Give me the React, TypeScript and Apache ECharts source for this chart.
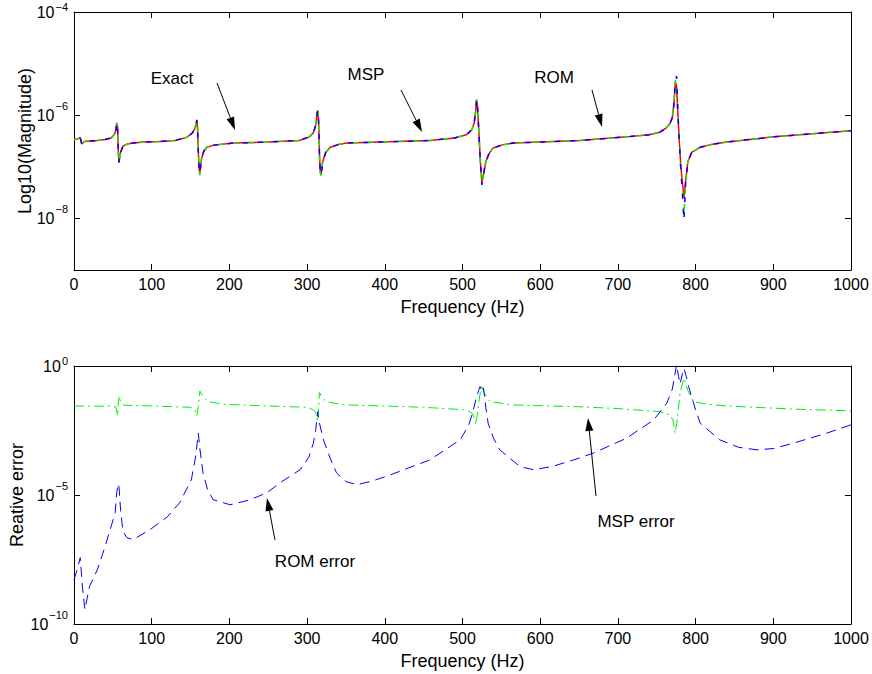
import React, { useEffect, useRef } from 'react';
import * as echarts from 'echarts';

// ---------- Top panel: transfer function magnitude ----------
const topFreq = [0, 5, 8, 10, 13, 20, 30, 40, 48, 52, 54, 55, 56, 57, 58, 60, 63, 68, 76, 90, 110, 130, 145, 152, 155, 157, 158, 159, 160, 161, 162, 164, 167, 171, 180, 205, 250, 290, 303, 308, 311, 313, 314, 315, 316, 317, 318, 320, 324, 330, 340, 351, 394, 458, 490, 505, 512, 515, 517, 518, 519, 521, 523, 525, 527, 530, 534, 539, 550, 565, 651, 711, 740, 754, 762, 767, 770, 772, 774, 775.5, 777, 779, 781, 783, 785, 787, 790, 795, 806, 820, 840, 900, 1000];

// log10 of magnitude
const exactLog10 = [-6.47, -6.46, -6.43, -6.56, -6.51, -6.50, -6.49, -6.47, -6.44, -6.37, -6.28, -6.15, -6.20, -6.70, -6.90, -6.72, -6.60, -6.56, -6.54, -6.52, -6.51, -6.49, -6.43, -6.35, -6.28, -6.18, -6.10, -6.25, -6.70, -7.05, -7.12, -6.85, -6.70, -6.62, -6.58, -6.54, -6.52, -6.49, -6.42, -6.34, -6.20, -5.95, -5.91, -6.20, -6.80, -7.10, -7.15, -6.90, -6.72, -6.62, -6.57, -6.54, -6.52, -6.49, -6.44, -6.38, -6.28, -6.15, -5.92, -5.70, -5.75, -6.30, -6.90, -7.30, -7.15, -6.90, -6.75, -6.64, -6.58, -6.54, -6.49, -6.42, -6.38, -6.33, -6.25, -6.16, -6.05, -5.80, -5.35, -5.45, -5.90, -6.50, -7.00, -7.30, -7.60, -7.30, -6.90, -6.72, -6.62, -6.57, -6.52, -6.42, -6.30];
const mspLog10 = [-6.47, -6.46, -6.43, -6.56, -6.51, -6.50, -6.49, -6.47, -6.44, -6.37, -6.28, -6.15, -6.20, -6.72, -6.92, -6.72, -6.60, -6.56, -6.54, -6.52, -6.51, -6.49, -6.43, -6.35, -6.28, -6.18, -6.10, -6.25, -6.72, -7.08, -7.16, -6.86, -6.70, -6.62, -6.58, -6.54, -6.52, -6.49, -6.42, -6.34, -6.20, -5.95, -5.91, -6.20, -6.82, -7.12, -7.18, -6.90, -6.72, -6.62, -6.57, -6.54, -6.52, -6.49, -6.44, -6.38, -6.28, -6.15, -5.92, -5.70, -5.75, -6.30, -6.92, -7.33, -7.16, -6.90, -6.75, -6.64, -6.58, -6.54, -6.49, -6.42, -6.38, -6.33, -6.25, -6.16, -6.05, -5.80, -5.32, -5.30, -5.90, -6.50, -7.05, -7.45, -7.95, -7.35, -6.90, -6.72, -6.62, -6.57, -6.52, -6.42, -6.30];
const romLog10 = [-6.47, -6.46, -6.43, -6.56, -6.51, -6.50, -6.49, -6.47, -6.44, -6.37, -6.28, -6.14, -6.20, -6.72, -6.92, -6.72, -6.60, -6.56, -6.54, -6.52, -6.51, -6.49, -6.43, -6.35, -6.28, -6.18, -6.09, -6.25, -6.72, -7.06, -7.13, -6.86, -6.70, -6.62, -6.58, -6.54, -6.52, -6.49, -6.42, -6.34, -6.20, -5.95, -5.90, -6.20, -6.82, -7.12, -7.16, -6.90, -6.72, -6.62, -6.57, -6.54, -6.52, -6.49, -6.44, -6.38, -6.28, -6.15, -5.92, -5.69, -5.75, -6.30, -6.92, -7.35, -7.16, -6.90, -6.75, -6.64, -6.58, -6.54, -6.49, -6.42, -6.38, -6.33, -6.25, -6.16, -6.05, -5.80, -5.32, -5.24, -5.90, -6.50, -7.05, -7.50, -8.04, -7.35, -6.90, -6.72, -6.62, -6.57, -6.52, -6.42, -6.30];

// ---------- Bottom panel: relative errors ----------
const mspErrFreq = [0, 50, 54, 56, 57, 58, 60, 64, 100, 150, 156, 158, 160, 162, 166, 173, 190, 250, 300, 308, 312, 313.6, 315, 315.8, 320, 325, 340, 351, 400, 450, 505, 512, 516, 517, 519, 522, 524.7, 528, 535, 565, 650, 700, 754, 767, 771, 773.5, 776, 780, 783, 785, 790, 797, 815, 840, 926, 1000];
const mspErrLog10 = [-1.55, -1.56, -1.60, -1.93, -1.50, -1.16, -1.40, -1.52, -1.55, -1.60, -1.70, -1.93, -1.60, -0.97, -1.20, -1.38, -1.48, -1.55, -1.60, -1.70, -1.85, -2.15, -1.60, -1.03, -1.25, -1.38, -1.47, -1.51, -1.55, -1.60, -1.70, -1.82, -2.05, -2.28, -1.90, -1.20, -0.73, -1.05, -1.38, -1.51, -1.58, -1.65, -1.77, -1.90, -2.10, -2.60, -2.20, -1.05, -0.70, -0.48, -0.95, -1.38, -1.48, -1.55, -1.67, -1.74];

const romErrFreq = [0, 4, 8, 11, 14, 20, 30, 40, 53, 55, 57, 58, 60, 63, 68, 76, 98, 120, 136, 151, 156, 158.5, 160, 162, 166, 172, 179, 201, 225, 248, 265, 291, 302, 308, 311, 313.6, 315, 321, 330, 338, 350, 364, 385, 407, 458, 497, 508, 514, 518, 522.5, 525, 527, 530, 533, 540, 548, 574, 591, 615, 643, 668, 711, 746, 763, 770, 775.6, 778, 780, 783, 785, 788, 791, 800, 806, 831, 855, 879, 900, 926, 969, 1000];
const romErrLog10 = [-8.28, -7.90, -7.43, -8.60, -9.44, -8.54, -7.90, -7.00, -5.69, -4.90, -4.56, -4.70, -5.60, -6.41, -6.65, -6.73, -6.34, -5.85, -5.30, -4.41, -3.60, -3.00, -2.60, -3.20, -4.14, -4.80, -5.18, -5.38, -5.20, -4.92, -4.53, -4.02, -3.55, -3.00, -2.50, -1.77, -2.10, -2.86, -3.60, -4.15, -4.48, -4.60, -4.45, -4.22, -3.64, -2.86, -2.30, -1.70, -1.20, -0.80, -1.00, -0.85, -1.60, -2.22, -2.80, -3.25, -3.90, -4.02, -3.90, -3.64, -3.38, -2.80, -2.09, -1.44, -0.90, 0.05, -0.40, -0.70, -0.30, -0.09, -0.40, -0.80, -1.70, -2.22, -2.86, -3.15, -3.25, -3.20, -2.99, -2.60, -2.28];

// ---------- Axis ticks ----------
const freqMin = 0;
const freqMax = 1000;
const freqStep = 100;
const topYMin = 1e-9;
const topYMax = 1e-4;
const topYTicks = [1e-8, 1e-6, 1e-4];
const botYMin = 1e-10;
const botYMax = 1;
const botYTicks = [1e-10, 1e-5, 1];

const FONT = '"Liberation Sans", Arial, Helvetica, sans-serif';
const TICK_FS = 16;
const NAME_FS = 18;
const NOTE_FS = 17;

const toPairs = (xs: number[], logs: number[]) => xs.map((x, i) => [x, Math.pow(10, logs[i])]);

const makeSupLabel = (topValue: number) => (v: number) => {
  const e = Math.round(Math.log10(v));
  const s = e < 0 ? '\u2212' + String(-e) : String(e);
  const atTop = Math.abs(Math.log10(v) - Math.log10(topValue)) < 1e-6;
  return atTop ? '{bt|10}{s|' + s + '}' : '{b|10}{s|' + s + '}';
};

const richSup = {
  b: { fontSize: TICK_FS, fontFamily: FONT, color: '#000', lineHeight: 30, verticalAlign: 'middle' },
  bt: { fontSize: TICK_FS, fontFamily: FONT, color: '#000', lineHeight: 22, verticalAlign: 'middle' },
  s: { fontSize: 11, fontFamily: FONT, color: '#000', lineHeight: 11, verticalAlign: 'top', padding: [0, 0, 0, 1] },
};

const blk = { color: '#000', width: 1 };

function makeXAxes(gridIndex: number) {
  return [
    {
      type: 'value', gridIndex, min: freqMin, max: freqMax, interval: freqStep, position: 'bottom',
      axisLine: { show: true, onZero: false, lineStyle: blk },
      axisTick: { show: true, inside: true, length: 6, lineStyle: blk },
      splitLine: { show: false },
      axisLabel: { color: '#000', fontSize: TICK_FS, fontFamily: FONT, margin: 6, formatter: (v: number) => String(v) },
      name: 'Frequency (Hz)', nameLocation: 'middle', nameGap: 28, nameMoveOverlap: false,
      nameTextStyle: { color: '#000', fontSize: NAME_FS, fontFamily: FONT },
    },
    {
      type: 'value', gridIndex, min: freqMin, max: freqMax, interval: freqStep, position: 'top',
      axisLine: { show: true, onZero: false, lineStyle: blk },
      axisTick: { show: true, inside: true, length: 6, lineStyle: blk },
      splitLine: { show: false },
      axisLabel: { show: false },
    },
  ];
}

function makeYAxes(gridIndex: number, min: number, max: number, ticks: number[], name: string, nameGap: number) {
  return [
    {
      type: 'log', logBase: 10, gridIndex, min, max, position: 'left',
      axisLine: { show: true, onZero: false, lineStyle: blk },
      axisTick: { show: true, inside: true, length: 6, lineStyle: blk, customValues: ticks },
      minorTick: { show: false },
      splitLine: { show: false },
      axisLabel: { customValues: ticks, formatter: makeSupLabel(max), rich: richSup, margin: 6, color: '#000' },
      name, nameLocation: 'middle', nameGap, nameMoveOverlap: false,
      nameTextStyle: { color: '#000', fontSize: NAME_FS, fontFamily: FONT },
    },
    {
      type: 'log', logBase: 10, gridIndex, min, max, position: 'right',
      axisLine: { show: true, onZero: false, lineStyle: blk },
      axisTick: { show: true, inside: true, length: 6, lineStyle: blk, customValues: ticks },
      minorTick: { show: false },
      splitLine: { show: false },
      axisLabel: { show: false, customValues: ticks },
    },
  ];
}

function arrow(x1: number, y1: number, x2: number, y2: number) {
  const dx = x2 - x1;
  const dy = y2 - y1;
  const len = Math.sqrt(dx * dx + dy * dy);
  const ux = dx / len;
  const uy = dy / len;
  const hl = 13;
  const hw = 4;
  const bx = x2 - ux * hl;
  const by = y2 - uy * hl;
  return [
    { type: 'line', shape: { x1, y1, x2: bx, y2: by }, style: { stroke: '#000', lineWidth: 1 }, silent: true },
    {
      type: 'polygon',
      shape: { points: [[x2, y2], [bx - uy * hw, by + ux * hw], [bx + uy * hw, by - ux * hw]] },
      style: { fill: '#000' }, silent: true,
    },
  ];
}

function label(text: string, cx: number, cy: number) {
  return {
    type: 'text', x: cx, y: cy, silent: true,
    style: { text, fill: '#000', font: `${NOTE_FS}px ${FONT}`, align: 'center', verticalAlign: 'middle' },
  };
}

const option: any = {
  animation: false,
  backgroundColor: '#fff',
  grid: [
    { left: 74, right: 21, top: 12, height: 258, outerBoundsMode: 'none', containLabel: false },
    { left: 74, right: 21, top: 366, height: 258, outerBoundsMode: 'none', containLabel: false },
  ],
  xAxis: [...makeXAxes(0), ...makeXAxes(1)],
  yAxis: [
    ...makeYAxes(0, topYMin, topYMax, topYTicks, 'Log10(Magnitude)', 40),
    ...makeYAxes(1, botYMin, botYMax, botYTicks, 'Reative error', 48),
  ],
  series: [
    {
      name: 'Exact', type: 'line', xAxisIndex: 0, yAxisIndex: 0, data: toPairs(topFreq, exactLog10),
      showSymbol: false, symbol: 'none', lineStyle: { color: '#ff0000', width: 1.5, type: 'solid' }, z: 2,
    },
    {
      name: 'MSP', type: 'line', xAxisIndex: 0, yAxisIndex: 0, data: toPairs(topFreq, mspLog10),
      showSymbol: false, symbol: 'none', lineStyle: { color: '#00ee00', width: 1.5, type: [5, 10], dashOffset: 0 }, z: 3,
    },
    {
      name: 'ROM', type: 'line', xAxisIndex: 0, yAxisIndex: 0, data: toPairs(topFreq, romLog10),
      showSymbol: false, symbol: 'none', lineStyle: { color: '#0000ff', width: 1.5, type: [5, 10], dashOffset: 7 }, z: 4,
    },
    {
      name: 'MSP error', type: 'line', xAxisIndex: 2, yAxisIndex: 2, data: toPairs(mspErrFreq, mspErrLog10),
      showSymbol: false, symbol: 'none', clip: true, lineStyle: { color: '#00ee00', width: 1, type: [10, 4, 2, 4] }, z: 3,
    },
    {
      name: 'ROM error', type: 'line', xAxisIndex: 2, yAxisIndex: 2, data: toPairs(romErrFreq, romErrLog10),
      showSymbol: false, symbol: 'none', clip: true, lineStyle: { color: '#0000ff', width: 1, type: [10, 6] }, z: 4,
    },
  ],
  graphic: [
    label('Exact', 172, 78),
    label('MSP', 366, 74),
    label('ROM', 554, 77),
    label('ROM error', 315, 561),
    label('MSP error', 636, 521),
    ...arrow(217, 83, 235, 130),
    ...arrow(401, 90, 422, 132),
    ...arrow(592, 90, 602, 127),
    ...arrow(275, 540, 267, 498),
    ...arrow(596, 496, 588, 418),
  ],
};

export default function App() {
  const ref = useRef<HTMLDivElement>(null);
  useEffect(() => {
    const chart = echarts.init(ref.current as HTMLDivElement, null, { renderer: 'svg' });
    chart.setOption(option);
    return () => chart.dispose();
  }, []);
  return (
    <div
      ref={ref}
      style={{ position: 'fixed', left: 0, top: 0, width: 872, height: 674, background: '#fff' }}
    />
  );
}
